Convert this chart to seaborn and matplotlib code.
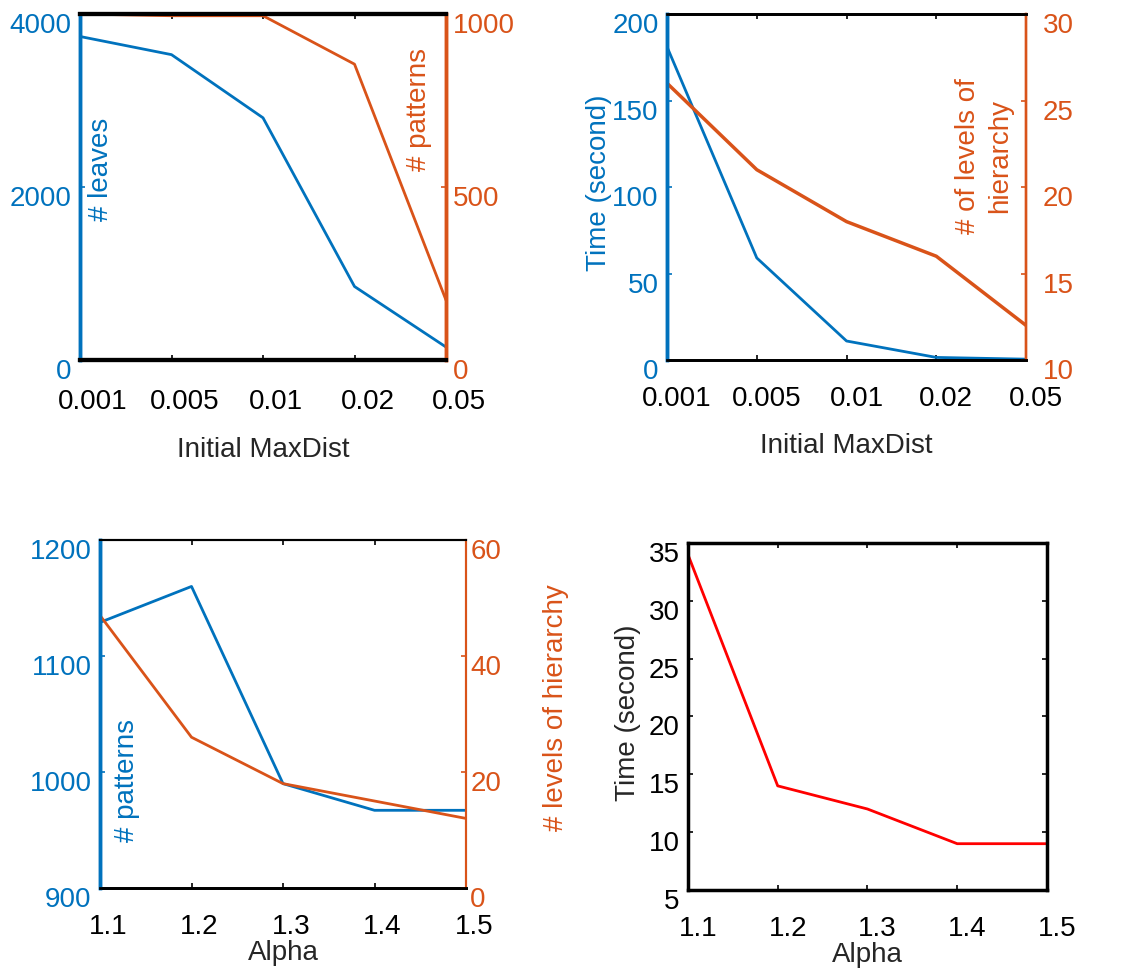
import pandas as pd
import seaborn as sns
import matplotlib.pyplot as plt
from matplotlib.transforms import ScaledTranslation

sns.set_theme(style="white")
plt.rcParams['font.family'] = ['Liberation Sans', 'DejaVu Sans']

# data
maxdist = ["0.001", "0.005", "0.01", "0.02", "0.05"]
leaves = [3740, 3530, 2800, 850, 150]
patterns_md = [1000, 995, 995, 855, 173]
time_md = [181, 59, 11, 1.5, 0.5]
levels_md = [26, 21, 18, 16, 12]

alpha = [1.1, 1.2, 1.3, 1.4, 1.5]
patterns_alpha = [1129, 1160, 990, 967, 967]
levels_alpha = [47, 26, 18, 15, 12]
time_alpha = [34, 14, 12, 9, 9]

BLUE = '#0072BD'
ORANGE = '#D95319'
RED = '#FF0000'
DARK = '#262626'
FS = 20

fig = plt.figure(figsize=(11.3, 9.72), dpi=100)


def shift_ticklabels(ax, dxpx=10, dypx=9):
    # tick labels in the reference sit a little right / below their ticks
    dx = ScaledTranslation(dxpx / 100, 0, fig.dpi_scale_trans)
    dy = ScaledTranslation(0, -dypx / 100, fig.dpi_scale_trans)
    for lab in ax.get_xticklabels():
        lab.set_transform(lab.get_transform() + dx)
    for lab in ax.get_yticklabels():
        lab.set_transform(lab.get_transform() + dy)


def style_twin(ax, ax2, lw_left, lw_right, lw_top, lw_bottom, xpad=19, rpad=6):
    for a in (ax, ax2):
        a.spines['top'].set_color('black')
        a.spines['bottom'].set_color('black')
        a.spines['top'].set_linewidth(lw_top)
        a.spines['bottom'].set_linewidth(lw_bottom)
        a.spines['left'].set_color(BLUE)
        a.spines['left'].set_linewidth(lw_left)
        a.spines['right'].set_color(ORANGE)
        a.spines['right'].set_linewidth(lw_right)
    ax.tick_params(axis='x', direction='in', bottom=True, top=True, length=3.5,
                   width=1.2, color='black', labelsize=FS, labelcolor='black', pad=xpad)
    ax.tick_params(axis='y', direction='in', left=True, right=False, length=3.5,
                   width=1.2, color=BLUE, labelsize=FS, labelcolor=BLUE, pad=6)
    ax2.tick_params(axis='y', direction='in', right=True, left=False, length=3.5,
                    width=1.2, color=ORANGE, labelsize=FS, labelcolor=ORANGE, pad=rpad)
    ax2.tick_params(axis='x', top=False, bottom=False)


# ---- top left: leaves / patterns vs Initial MaxDist
ax = fig.add_axes([0.0708, 0.6296, 0.3239, 0.356])
ax2 = ax.twinx()
sns.lineplot(x=maxdist, y=leaves, ax=ax, color=BLUE, lw=2)
sns.lineplot(x=maxdist, y=patterns_md, ax=ax2, color=ORANGE, lw=2)
ax.set_xlim(0, 4)
ax.set_ylim(0, 4000)
ax.set_yticks([0, 2000, 4000])
ax2.set_ylim(0, 1000)
ax2.set_yticks([0, 500, 1000])
style_twin(ax, ax2, 2.5, 2.5, 3, 3, xpad=21, rpad=5)
ax.set_xlabel('Initial MaxDist', fontsize=FS, color=DARK, labelpad=16)
ax.set_ylabel('# leaves', fontsize=FS, color=BLUE, va='center')
ax.yaxis.set_label_coords(0.057, 0.55)
ax2.set_ylabel('# patterns', fontsize=FS, color=ORANGE, va='center', rotation=90)
ax2.yaxis.set_label_coords(0.926, 0.725)
shift_ticklabels(ax, 13)
shift_ticklabels(ax2, 13)

# ---- top right: time / levels vs Initial MaxDist
ax = fig.add_axes([0.5903, 0.6296, 0.3177, 0.356])
ax2 = ax.twinx()
sns.lineplot(x=maxdist, y=time_md, ax=ax, color=BLUE, lw=2)
sns.lineplot(x=maxdist, y=levels_md, ax=ax2, color=ORANGE, lw=2.5)
ax.set_xlim(0, 4)
ax.set_ylim(0, 200)
ax.set_yticks([0, 50, 100, 150, 200])
ax2.set_ylim(10, 30)
ax2.set_yticks([10, 15, 20, 25, 30])
style_twin(ax, ax2, 2.5, 1.7, 2, 2, xpad=19, rpad=12)
ax.set_xlabel('Initial MaxDist', fontsize=FS, color=DARK, labelpad=15)
ax.set_ylabel('Time (second)', fontsize=FS, color=BLUE, va='center')
ax.yaxis.set_label_coords(-0.19, 0.513)
ax2.set_ylabel('# of levels of\nhierarchy', fontsize=FS, color=ORANGE,
               va='center', rotation=90, linespacing=1.3)
ax2.yaxis.set_label_coords(0.883, 0.59)
shift_ticklabels(ax)
shift_ticklabels(ax2)

# ---- bottom left: patterns / levels vs Alpha
ax = fig.add_axes([0.0885, 0.0864, 0.3239, 0.358])
ax2 = ax.twinx()
sns.lineplot(x=alpha, y=patterns_alpha, ax=ax, color=BLUE, lw=2)
sns.lineplot(x=alpha, y=levels_alpha, ax=ax2, color=ORANGE, lw=2)
ax.set_xlim(1.1, 1.5)
ax.set_xticks(alpha)
ax.set_xticklabels([f'{a:.1f}' for a in alpha])
ax.set_ylim(900, 1200)
ax.set_yticks([900, 1000, 1100, 1200])
ax2.set_ylim(0, 60)
ax2.set_yticks([0, 20, 40, 60])
style_twin(ax, ax2, 2.5, 1.5, 1.5, 2, xpad=19, rpad=3)
ax.set_xlabel('Alpha', fontsize=FS, color=DARK, labelpad=0)
ax.set_ylabel('# patterns', fontsize=FS, color=BLUE, va='center')
ax.yaxis.set_label_coords(0.075, 0.31)
ax2.set_ylabel('# levels of hierarchy', fontsize=FS, color=ORANGE,
               va='center', rotation=90)
ax2.yaxis.set_label_coords(1.246, 0.517)
shift_ticklabels(ax, 8)
shift_ticklabels(ax2, 8)

# ---- bottom right: time vs Alpha
ax = fig.add_axes([0.6088, 0.0844, 0.3177, 0.357])
sns.lineplot(x=alpha, y=time_alpha, ax=ax, color=RED, lw=2)
ax.set_xlim(1.1, 1.5)
ax.set_xticks(alpha)
ax.set_xticklabels([f'{a:.1f}' for a in alpha])
ax.set_ylim(5, 35)
ax.set_yticks([5, 10, 15, 20, 25, 30, 35])
for s in ax.spines.values():
    s.set_color('black')
    s.set_linewidth(2.5)
ax.tick_params(axis='both', direction='in', bottom=True, top=True, left=True,
               right=True, length=3.5, width=1.2, color='black', labelsize=FS,
               labelcolor='black')
ax.tick_params(axis='x', pad=19)
ax.tick_params(axis='y', pad=6)
ax.set_xlabel('Alpha', fontsize=FS, color=DARK, labelpad=0)
ax.set_ylabel('Time (second)', fontsize=FS, color=DARK, va='center')
ax.yaxis.set_label_coords(-0.168, 0.51)
shift_ticklabels(ax)

fig.savefig('out.png', dpi=100)
